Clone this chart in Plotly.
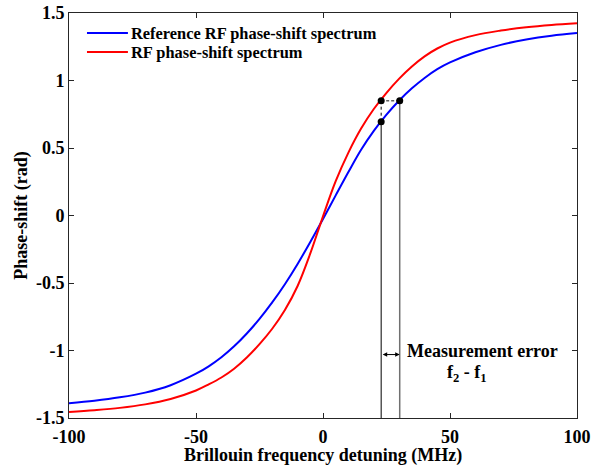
import plotly.graph_objects as go

# Brillouin frequency detuning (MHz)
detuning = [-100, -90, -80, -70, -60, -50, -45, -40, -35, -30, -25, -20, -15, -10, -5,
            0, 5, 10, 15, 20, 25, 30, 35, 40, 45, 50, 60, 70, 80, 90, 100]

# Reference RF phase-shift spectrum (rad)
ref_phase = [-1.390, -1.372, -1.347, -1.312, -1.257, -1.172, -1.117, -1.050, -0.969, -0.874,
             -0.766, -0.644, -0.509, -0.359, -0.196, -0.026, 0.149, 0.322, 0.487, 0.627,
             0.747, 0.852, 0.942, 1.019, 1.084, 1.134, 1.209, 1.264, 1.304, 1.332, 1.351]

# Measured RF phase-shift spectrum (rad)
rf_phase = [-1.455, -1.442, -1.425, -1.399, -1.359, -1.296, -1.251, -1.200, -1.135, -1.052,
            -0.953, -0.839, -0.700, -0.522, -0.281, -0.006, 0.254, 0.466, 0.644, 0.789,
            0.909, 1.014, 1.104, 1.179, 1.237, 1.281, 1.336, 1.370, 1.395, 1.412, 1.424]

# Measurement-error construction
f1, f2 = 22.9, 30.2          # MHz
phase_level = 0.85           # rad, RF curve at f1 == reference curve at f2
ref_at_f1 = 0.695            # rad, reference curve at f1
arrow_phase = -1.03          # rad, height of the f2 - f1 arrow

y_ticks = [1.5, 1, 0.5, 0, -0.5, -1, -1.5]
y_ticktext = ["1.5", "1", "0.5", "0", "-0.5", "-1", "-1.5"]
x_ticks = [-100, -50, 0, 50, 100]
x_ticktext = ["-100", "-50", "0", "50", "100"]

FONT = "Liberation Serif"
BOLD = dict(family=FONT, weight="bold", color="black")

fig = go.Figure()

fig.add_trace(go.Scatter(x=detuning, y=ref_phase, mode="lines", line_shape="spline",
                         name="Reference RF phase-shift spectrum",
                         line=dict(color="#0000ff", width=2)))
fig.add_trace(go.Scatter(x=detuning, y=rf_phase, mode="lines", line_shape="spline",
                         name="RF phase-shift spectrum",
                         line=dict(color="#ff0000", width=2)))

# drop lines from the curve points to the frequency axis
fig.add_trace(go.Scatter(x=[f1, f1], y=[-1.5, ref_at_f1], mode="lines",
                         line=dict(color="black", width=1)))
fig.add_trace(go.Scatter(x=[f2, f2], y=[-1.5, phase_level], mode="lines",
                         line=dict(color="#707070", width=1.5)))
# dotted vertical between the two curves at f1
fig.add_trace(go.Scatter(x=[f1, f1], y=[ref_at_f1, phase_level], mode="lines",
                         line=dict(color="black", width=1, dash="dot")))
# dashed horizontal at the common phase level
fig.add_trace(go.Scatter(x=[f1, f2], y=[phase_level, phase_level], mode="lines",
                         line=dict(color="#606060", width=1.5, dash="3px,2px")))
# points on the curves
fig.add_trace(go.Scatter(x=[f1, f1, f2], y=[phase_level, ref_at_f1, phase_level],
                         mode="markers", marker=dict(color="black", size=7)))

annotations = [
    dict(x=f2, y=arrow_phase, ax=f1, ay=arrow_phase, xref="x", yref="y",
         axref="x", ayref="y", text="", showarrow=True, arrowhead=2,
         arrowside="end+start", arrowsize=0.9, arrowwidth=1, arrowcolor="black"),
    dict(x=32.3, y=-1.0, xref="x", yref="y", text="Measurement error",
         showarrow=False, xanchor="left", yanchor="middle", font=dict(size=18, **BOLD)),
    dict(x=56.5, y=-1.17, xref="x", yref="y", text="f<sub>2</sub> - f<sub>1</sub>",
         showarrow=False, xanchor="center", yanchor="middle", font=dict(size=18, **BOLD)),
    dict(x=f1, y=-1.585, xref="x", yref="y", text="f<sub>1</sub>",
         showarrow=False, xanchor="center", yanchor="middle", font=dict(size=18, **BOLD)),
    dict(x=f2, y=-1.585, xref="x", yref="y", text="f<sub>2</sub>",
         showarrow=False, xanchor="center", yanchor="middle", font=dict(size=18, **BOLD)),
    # frequency-axis title
    dict(x=0.5, y=-0.0914, xref="paper", yref="paper",
         text="Brillouin frequency detuning (MHz)", showarrow=False,
         xanchor="center", yanchor="middle", font=dict(size=18, **BOLD)),
]

# legend drawn as line samples with labels
legend_items = [("Reference RF phase-shift spectrum", "#0000ff", 0.9506),
                ("RF phase-shift spectrum", "#ff0000", 0.9037)]
shapes = []
for label, color, yp in legend_items:
    shapes.append(dict(type="line", xref="paper", yref="paper", x0=0.0354, x1=0.116,
                       y0=yp, y1=yp, line=dict(color=color, width=2)))
    annotations.append(dict(x=0.119, y=yp, xref="paper", yref="paper", text=label,
                            showarrow=False, xanchor="left", yanchor="middle",
                            font=dict(size=16.4, **BOLD)))

axis_common = dict(showline=True, linecolor="#262626", linewidth=1, mirror="ticks",
                   ticks="inside", ticklen=5, tickcolor="#262626", showgrid=False,
                   zeroline=False, automargin=False, tickfont=dict(size=18, **BOLD))

fig.update_layout(
    width=605, height=466,
    margin=dict(l=69, r=28, t=13, b=48),
    plot_bgcolor="white", paper_bgcolor="white",
    font=dict(family=FONT, size=18, color="black"),
    showlegend=False,
    shapes=shapes,
    annotations=annotations,
    xaxis=dict(range=[-100, 100], tickmode="array", tickvals=x_ticks, ticktext=x_ticktext,
               ticklabelstandoff=2, **axis_common),
    yaxis=dict(range=[-1.5, 1.5], tickmode="array", tickvals=y_ticks, ticktext=y_ticktext,
               title=dict(text="Phase-shift (rad)", font=dict(size=18, **BOLD), standoff=3),
               **axis_common),
)

fig.write_html("out.html")
